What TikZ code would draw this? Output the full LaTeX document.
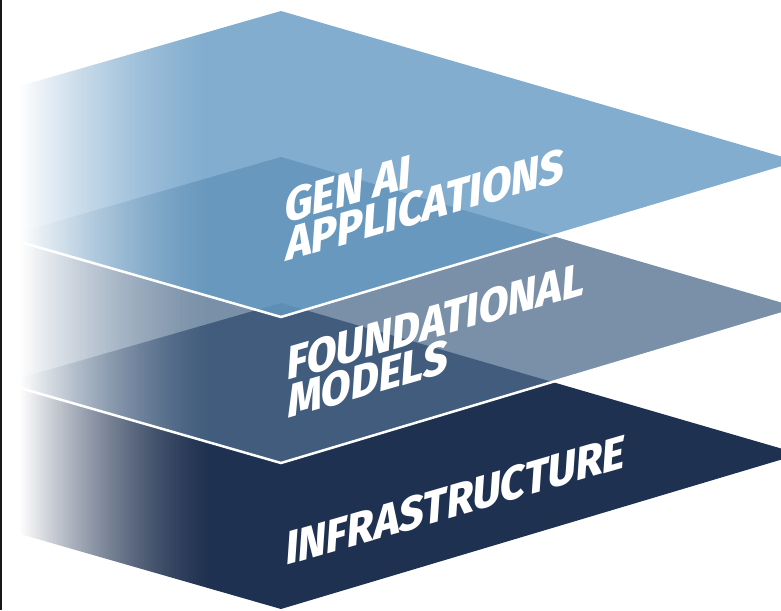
\documentclass[tikz,border=0pt]{standalone}
\usepackage{fontspec}
\usepackage{tikz}
\usetikzlibrary{calc}
\newfontfamily\layerfont{Fira Sans ExtraBold}
\definecolor{appblue}{RGB}{101,154,196}
\definecolor{modelgrey}{RGB}{77,107,139}
\definecolor{infranavy}{RGB}{31,49,80}
\definecolor{edgedark}{RGB}{26,24,22}
\tikzset{
	layertext/.style={text=white, font=\layerfont\fontsize{47}{47}\selectfont, inner sep=0pt, anchor=base west, yslant=0.29, xslant=0.07, xscale=0.91, transform shape},
	edgeline/.style={white, line width=2.5pt, line join=miter}
}
\def\layer[#1](#2){\fill[#1] (#2) -- ++(519,151) -- ++(-519,155) -- ++(-261,-75) -- ++(0,-156) -- cycle;}
\def\layeredge(#1){\draw[edgeline] ($(#1)+(-261,231)$) -- ($(#1)+(0,306)$) -- ($(#1)+(519,151)$);}

\begin{document}
\begin{tikzpicture}[x=1pt, y=-1pt]
			%%%%% START %%%%%
			\useasboundingbox (0, 0) rectangle (781, 610);
			\clip (0, 0) rectangle (781, 610);
			
			\coordinate (apptop) at (281, 11);
			\coordinate (modeltop) at (281, 157);
			\coordinate (infratop) at (281, 303);
			
			\layer[infranavy](infratop)
			\layer[modelgrey, fill opacity=0.75](modeltop)
			\layeredge(modeltop)
			\layer[appblue, fill opacity=0.81](apptop)
			\layeredge(apptop)
			
			% white fade over the left side
			\foreach \x in {20,...,214}
				\fill[white, fill opacity={(1-(\x+0.5-20)/195)^1.5}] (\x, 0) rectangle (\x+1, 610);
			\fill[edgedark] (0, 0) rectangle (1.5, 610);
			
			\node[layertext] (genai) at (284, 224) {GEN AI};
			\node[layertext] (apps) at (285, 262) {APPLICATIONS};
			\node[layertext] (found) at (286, 381) {FOUNDATIONAL};
			\node[layertext] (models) at (287, 419) {MODELS};
			\node[layertext] (infra) at (285, 566) {INFRASTRUCTURE};
			
			%%%%% END %%%%%
		\end{tikzpicture}
\end{document}
